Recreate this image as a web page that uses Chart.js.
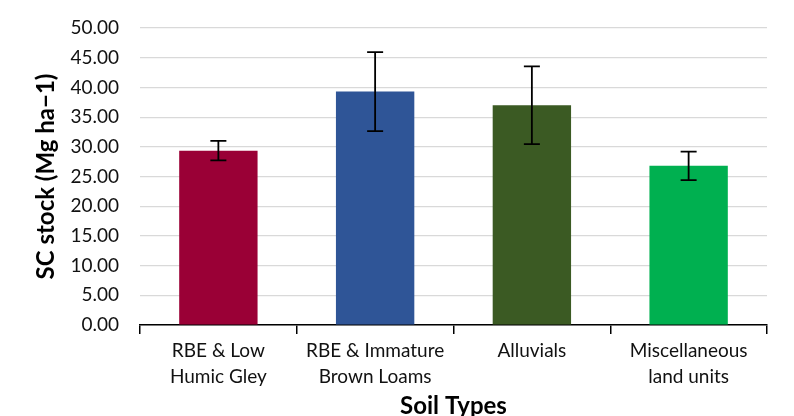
<!DOCTYPE html>
<html>
<head>
<meta charset="utf-8">
<script src="https://cdn.jsdelivr.net/npm/chart.js@4"></script>
<style>
  html, body { margin: 0; padding: 0; background: #fff; }
  #wrap { width: 794px; height: 416px; }
</style>
</head>
<body>
<div id="wrap"><canvas id="chart" width="794" height="416"></canvas></div>
<script>
const soilTypes = [["RBE & Low", "Humic Gley"], ["RBE & Immature", "Brown Loams"], "Alluvials", ["Miscellaneous", "land units"]];
const scStock = [29.35, 39.3, 37.0, 26.8];
const scError = [1.65, 6.65, 6.55, 2.4];
const barColors = ["#9a0036", "#2f5597", "#3b5a23", "#00b050"];

const errorBars = {
  id: "errorBars",
  afterDatasetsDraw(chart) {
    const ctx = chart.ctx;
    const y = chart.scales.y;
    const meta = chart.getDatasetMeta(0);
    ctx.save();
    ctx.strokeStyle = "#000";
    ctx.lineWidth = 1.8;
    meta.data.forEach((bar, i) => {
      const top = y.getPixelForValue(scStock[i] + scError[i]);
      const bottom = y.getPixelForValue(scStock[i] - scError[i]);
      const x = bar.x;
      ctx.beginPath();
      ctx.moveTo(x, top); ctx.lineTo(x, bottom);
      ctx.moveTo(x - 8, top); ctx.lineTo(x + 8, top);
      ctx.moveTo(x - 8, bottom); ctx.lineTo(x + 8, bottom);
      ctx.stroke();
    });
    ctx.restore();
  }
};

new Chart(document.getElementById("chart"), {
  type: "bar",
  data: {
    labels: soilTypes,
    datasets: [{
      label: "SC stock",
      data: scStock,
      backgroundColor: barColors,
      categoryPercentage: 1.0,
      barPercentage: 0.5
    }]
  },
  options: {
    responsive: false,
    animation: false,
    layout: { padding: { top: 28, right: 27, left: 32, bottom: -5 } },
    plugins: { legend: { display: false }, tooltip: { enabled: false } },
    scales: {
      x: {
        grid: { display: true, drawOnChartArea: false, color: "#000", tickLength: 9, lineWidth: 1.5 },
        border: { display: true, color: "#000", width: 1.5 },
        ticks: { color: "#111", font: { family: "Lato", size: 19, lineHeight: 1.35 }, padding: 4, maxRotation: 0 },
        title: { display: true, text: "Soil Types", color: "#000", font: { family: "Lato", size: 24, weight: "bold" }, padding: { top: 0, bottom: 0 } },
        afterFit(scale) { scale.height = 96; }
      },
      y: {
        min: 0,
        max: 50,
        grid: { color: "#d9d9d9", drawTicks: false, lineWidth: 1.2 },
        border: { display: false },
        ticks: {
          stepSize: 5,
          padding: 21,
          color: "#111",
          font: { family: "Lato", size: 19 },
          callback: v => v.toFixed(2)
        },
        title: { display: true, text: "SC stock (Mg ha\u22121)", color: "#000", font: { family: "Lato", size: 24, weight: "bold" }, padding: { top: 0, bottom: 2 } },
        afterFit(scale) { scale.width = 108; scale.paddingTop = 0; }
      }
    }
  },
  plugins: [errorBars]
});
</script>
</body>
</html>
